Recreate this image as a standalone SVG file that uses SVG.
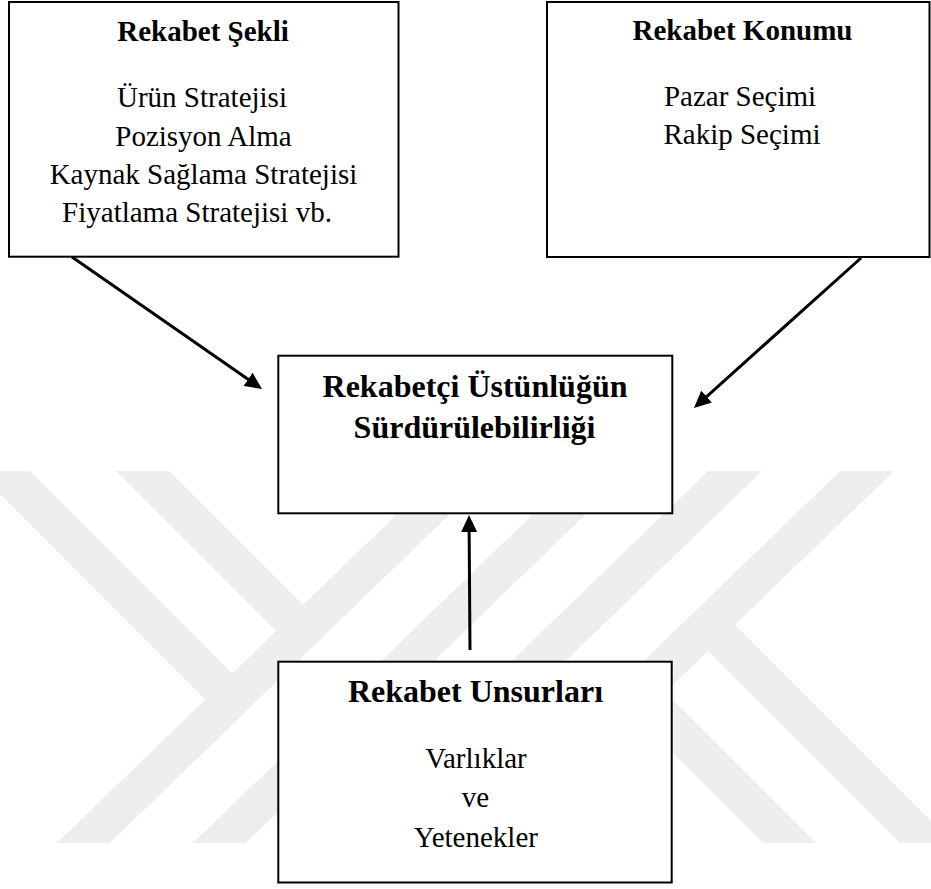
<svg xmlns="http://www.w3.org/2000/svg" width="931" height="889" viewBox="0 0 931 889">
  <style>
    .wm { fill: #eeeeee; }
    .box { fill: #ffffff; stroke: #000000; stroke-width: 2; }
    .t { font-family: "Liberation Serif", "Times New Roman", serif; font-size: 29px; text-anchor: middle; fill: #000000; }
    .h { font-weight: bold; }
    .h32 { font-weight: bold; font-size: 32px; }
    .conn { stroke: #000000; stroke-width: 3; fill: none; marker-end: url(#arr); }
  </style>
  <defs>
    <marker id="arr" markerUnits="userSpaceOnUse" markerWidth="17" markerHeight="16" viewBox="0 0 17 16" refX="7" refY="8" orient="auto">
      <path d="M0,0 L17,8 L0,16 z" fill="#000000"/>
    </marker>
  </defs>
  <rect x="0" y="0" width="931" height="889" fill="#ffffff"/>
  <g id="watermark">
    <polygon class="wm" points="56.9,843 109.9,843 494.5,471 441.5,471"/>
    <polygon class="wm" points="192.9,843 245.9,843 630.5,471 577.5,471"/>
    <polygon class="wm" points="-23,471 30,471 245.4,686.4 218.4,712.4"/>
    <polygon class="wm" points="116,471 169,471 316,618 289.1,644.1"/>
    <polygon class="wm" points="840,471 894,471 509.4,843 455.4,843"/>
    <polygon class="wm" points="708,471 762,471 377.4,843 323.4,843"/>
    <polygon class="wm" points="721.6,611.6 694.6,637.6 900,843 953,843"/>
    <polygon class="wm" points="652,679 625.1,705.1 763,843 816,843"/>
  </g>
  <g id="node-rekabet-sekli">
    <rect class="box" x="9" y="2" width="389.5" height="254.7"/>
    <text class="t h" x="203" y="41">Rekabet Şekli</text>
    <text class="t" x="202" y="107">Ürün Stratejisi</text>
    <text class="t" x="203.5" y="146">Pozisyon Alma</text>
    <text class="t" x="203.5" y="183.5">Kaynak Sağlama Stratejisi</text>
    <text class="t" x="197" y="222">Fiyatlama Stratejisi vb.</text>
  </g>
  <g id="node-rekabet-konumu">
    <rect class="box" x="547" y="2" width="382.5" height="255"/>
    <text class="t h" x="742.5" y="40">Rekabet Konumu</text>
    <text class="t" x="740" y="106">Pazar Seçimi</text>
    <text class="t" x="742" y="144.3">Rakip Seçimi</text>
  </g>
  <g id="node-surdurulebilirlik">
    <rect class="box" x="278.3" y="355.7" width="394" height="157.6"/>
    <text class="t h32" x="475" y="397.3">Rekabetçi Üstünlüğün</text>
    <text class="t h32" x="474.5" y="438.3">Sürdürülebilirliği</text>
  </g>
  <g id="node-rekabet-unsurlari">
    <rect class="box" x="278.3" y="661.7" width="393.4" height="220.8"/>
    <text class="t h32" x="475.5" y="701.7">Rekabet Unsurları</text>
    <text class="t" x="476" y="768.3">Varlıklar</text>
    <text class="t" x="475.5" y="806.7">ve</text>
    <text class="t" x="475.8" y="846.7">Yetenekler</text>
  </g>
  <g id="connectors">
    <line class="conn" x1="72" y1="257" x2="253.8" y2="383.3"/>
    <line class="conn" x1="861" y1="258" x2="701.4" y2="401.3"/>
    <line class="conn" x1="470" y1="650" x2="469.1" y2="525"/>
  </g>
</svg>
